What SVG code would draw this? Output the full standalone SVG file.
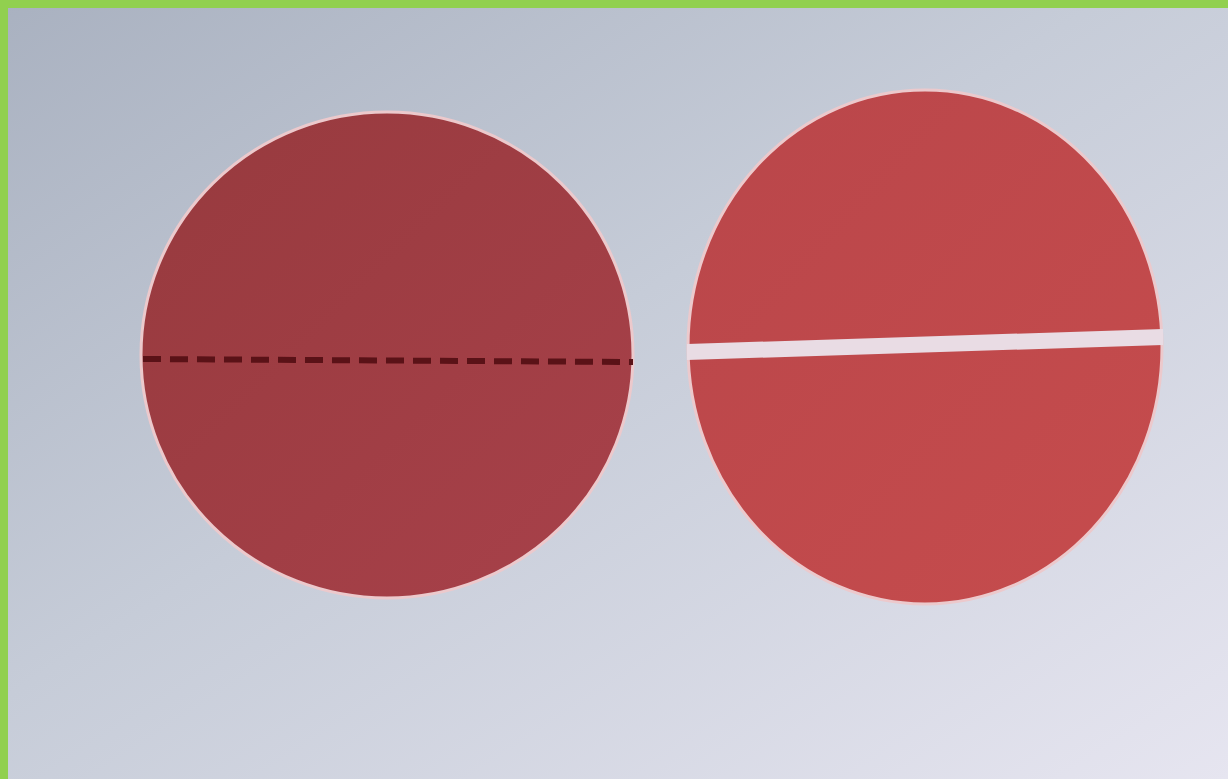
<svg xmlns="http://www.w3.org/2000/svg" width="1228" height="779" viewBox="0 0 1228 779">
<defs>
<linearGradient id="bg" x1="0" y1="0" x2="1" y2="1">
<stop offset="0" stop-color="#a9b1c0"/>
<stop offset="0.45" stop-color="#c6ccd8"/>
<stop offset="1" stop-color="#e6e5f0"/>
</linearGradient>
<linearGradient id="redL" x1="0" y1="0" x2="1" y2="1">
<stop offset="0" stop-color="#973a3e"/>
<stop offset="1" stop-color="#a8414a"/>
</linearGradient>
<linearGradient id="redR" x1="0" y1="0" x2="1" y2="1">
<stop offset="0" stop-color="#b9464a"/>
<stop offset="1" stop-color="#c64c4d"/>
</linearGradient>
<style>
.disc{stroke:#ecc9cc;stroke-width:3}
</style>
</defs>
<rect x="0" y="0" width="1228" height="779" fill="url(#bg)"/>
<rect x="0" y="0" width="1228" height="8" fill="#91d04f"/>
<rect x="0" y="0" width="8" height="779" fill="#91d04f"/>
<g id="left-disc">
<ellipse class="disc" cx="387" cy="355" rx="246" ry="243" fill="url(#redL)"/>
<line x1="143" y1="359" x2="633" y2="362" stroke="#5a1217" stroke-width="6" stroke-dasharray="18 9"/>
</g>
<g id="right-disc">
<ellipse class="disc" cx="925" cy="347" rx="237" ry="257" fill="url(#redR)"/>
<polygon points="687,344 1163,329 1163,345 687,360" fill="#e9dce4"/>
</g>
</svg>
